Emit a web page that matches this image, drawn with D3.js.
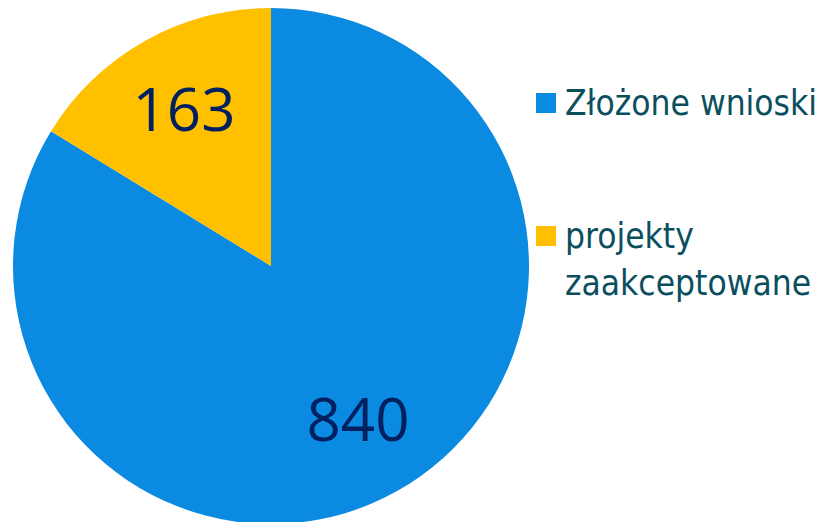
<!DOCTYPE html>
<html>
<head>
<meta charset="utf-8">
<script src="https://cdn.jsdelivr.net/npm/d3@7"></script>
<style>
  body { margin: 0; background: #fff; }
</style>
</head>
<body>
<svg id="chart" width="833" height="522"></svg>
<script>
const categories = ["Złożone wnioski", "projekty zaakceptowane"];
const values = [840, 163];
const legendLines = [["Złożone wnioski"], ["projekty", "zaakceptowane"]];
const colors = ["#0a8ae0", "#ffc000"];

const svg = d3.select("#chart");
const cx = 271, cy = 266, radius = 258;

const pie = d3.pie().value(d => d).sort(null);
const arc = d3.arc().innerRadius(0).outerRadius(radius);
const labelArc = d3.arc().innerRadius(178).outerRadius(178);

const g = svg.append("g").attr("transform", `translate(${cx},${cy})`);

const arcs = g.selectAll(".arc")
  .data(pie(values))
  .enter().append("g")
  .attr("class", "arc");

arcs.append("path")
  .attr("d", arc)
  .style("fill", (d, i) => colors[i]);

arcs.append("text")
  .attr("transform", d => `translate(${labelArc.centroid(d)})`)
  .attr("text-anchor", "middle")
  .attr("dy", "0.33em")
  .style("font-family", "'Open Sans', sans-serif")
  .style("font-size", "60px")
  .style("fill", "#002060")
  .text(d => d.data);

// legend
const legend = svg.append("g").attr("transform", "translate(536,0)");
const legendY = [93, 226];
legendLines.forEach((lines, i) => {
  legend.append("rect")
    .attr("x", 0)
    .attr("y", legendY[i])
    .attr("width", 20)
    .attr("height", 20)
    .style("fill", colors[i]);
  const t = legend.append("text")
    .attr("x", 29)
    .attr("y", legendY[i] + 22)
    .style("font-family", "'DejaVu Sans Condensed', 'DejaVu Sans', sans-serif")
    .style("font-stretch", "condensed")
    .style("font-size", "35px")
    .style("fill", "#0b4f5f");
  lines.forEach((line, j) => {
    t.append("tspan")
      .attr("x", 29)
      .attr("dy", j === 0 ? 0 : 47)
      .text(line);
  });
});
</script>
</body>
</html>
